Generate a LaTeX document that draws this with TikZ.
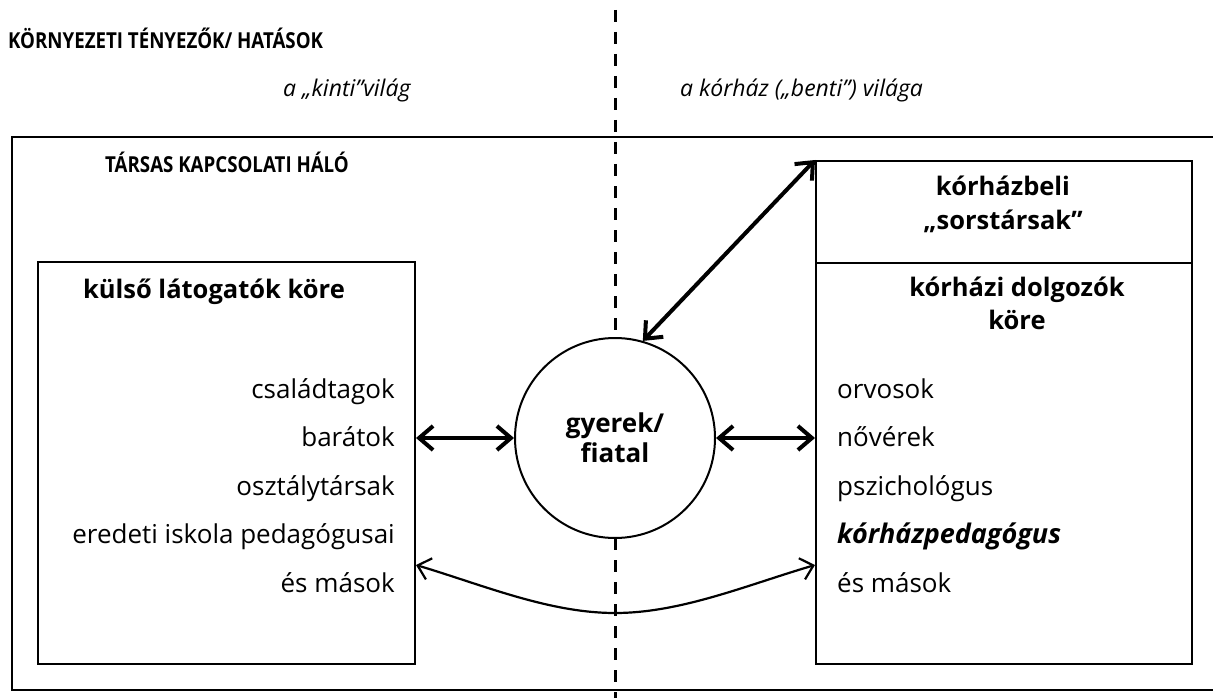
\documentclass[tikz,border=0pt]{standalone}
\usepackage{fontspec}
\setmainfont{Open Sans}
\newfontfamily\capsfont[FakeStretch=0.85]{Open Sans}
\usetikzlibrary{arrows.meta}
\tikzset{
  box/.style={draw, line width=2pt, inner sep=0pt},
  outerbox/.style={draw, line width=2.4pt},
  divider/.style={line width=3pt, dash pattern=on 12pt off 10pt},
  kid/.style={circle, draw, fill=white, line width=2pt, minimum size=200pt, inner sep=0pt, align=center,
              font=\fontsize{26}{30}\selectfont\bfseries},
  bigarrow/.style={line width=4pt, {Straight Barb[length=14pt,width=24pt]}-{Straight Barb[length=14pt,width=24pt]}},
  thinarrow/.style={line width=2.2pt, {Straight Barb[length=12pt,width=22pt]}-{Straight Barb[length=12pt,width=22pt]}},
  caps/.style={inner sep=0pt, anchor=base west, font=\capsfont\fontsize{22}{22}\selectfont\bfseries},
  world/.style={inner sep=0pt, anchor=base west, font=\fontsize{23}{26}\selectfont\itshape},
  head/.style={inner sep=0pt, anchor=base, font=\fontsize{25.5}{33}\selectfont\bfseries},
  itemr/.style={inner sep=0pt, anchor=base east, font=\fontsize{26}{26}\selectfont},
  iteml/.style={inner sep=0pt, anchor=base west, font=\fontsize{26}{26}\selectfont},
}
\begin{document}
\begin{tikzpicture}[x=1pt,y=-1pt]
\useasboundingbox (0,0) rectangle (1213,698);
\clip (0,0) rectangle (1213,698);
\fill[white] (0,0) rectangle (1213,698);

% outer network frame
\draw[outerbox] (12,137) rectangle (1225,690);
% dividing line between the two worlds
\draw[divider] (615,10) -- (615,698);

% texts on top
\node[caps] (env) at (8,49) {KÖRNYEZETI TÉNYEZŐK/ HATÁSOK};
\node[world] (out) at (283,97) {a „kinti”világ};
\node[world] (in) at (680,97) {a kórház („benti”) világa};
\node[caps] (net) at (105,172) {TÁRSAS KAPCSOLATI HÁLÓ};

% boxes
\node[box, minimum width=377pt, minimum height=402pt] (left) at (226.5,463) {};
\node[box, minimum width=376pt, minimum height=102pt] (sors) at (1004,212) {};
\node[box, minimum width=376pt, minimum height=401pt] (staff) at (1004,463.5) {};

% child
\node[kid] (kid) at (615,438) {gyerek/\\fiatal};

% left box texts
\node[head] (lh) at (214,298) {külső látogatók köre};
\node[itemr] (l1) at (395,398) {családtagok};
\node[itemr] (l2) at (395,446.5) {barátok};
\node[itemr] (l3) at (395,495) {osztálytársak};
\node[itemr] (l4) at (395,543.5) {eredeti iskola pedagógusai};
\node[itemr] (l5) at (395,592) {és mások};

% right box texts
\node[head] (sh1) at (1003,196) {kórházbeli};
\node[head] (sh2) at (1003,229) {„sorstársak”};
\node[head] (rh1) at (1017,296) {kórházi dolgozók};
\node[head] (rh2) at (1017,329) {köre};
\node[iteml] (r1) at (837,398) {orvosok};
\node[iteml] (r2) at (837,446.5) {nővérek};
\node[iteml] (r3) at (837,495) {pszichológus};
\node[iteml,font=\fontsize{27}{27}\selectfont\bfseries\itshape] (r4) at (837,543.5) {kórházpedagógus};
\node[iteml] (r5) at (837,592) {és mások};

% connectors
\draw[bigarrow] (kid.west -| left.east) -- (kid.west);
\draw[bigarrow] (kid.east) -- (kid.east -| staff.west);
\draw[bigarrow] (kid.74) -- (sors.north west);
\coordinate (cl) at (416,565);
\coordinate (cb) at (615,613);
\coordinate (cr) at (815,565);
\draw[thinarrow] (cl) .. controls (483,585) and (549,613) .. (cb)
                      .. controls (681,613) and (747,585) .. (cr);
\end{tikzpicture}
\end{document}
